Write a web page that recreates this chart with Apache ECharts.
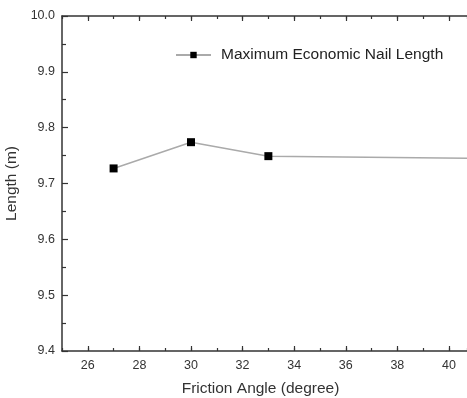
<!DOCTYPE html>
<html><head><meta charset="utf-8">
<script src="https://cdn.jsdelivr.net/npm/echarts@6/dist/echarts.min.js"></script>
<style>html,body{margin:0;padding:0;background:#fff}#c{width:467px;height:398px}</style>
</head><body><div id="c"></div>
<script>
var frictionAngle = [27, 30, 33, 45];
var nailLength = [9.727, 9.774, 9.749, 9.743];
var xTicks = [26, 28, 30, 32, 34, 36, 38, 40];
var yTicks = ['9.4', '9.5', '9.6', '9.7', '9.8', '9.9', '10.0'];

var chart = echarts.init(document.getElementById('c'));
var axisCol = '#333';
var font = 'Liberation Sans, Arial, sans-serif';
var lab = {color: '#333', fontSize: 12.5, fontFamily: font};
function minorX(pos) {
  return {
    type: 'value', min: 25, max: 40.7, interval: 1, position: pos,
    axisLine: {show: false},
    axisTick: {show: true, inside: true, length: 3, lineStyle: {color: axisCol, width: 1.2}},
    splitLine: {show: false}, axisLabel: {show: false}
  };
}
chart.setOption({
  animation: false,
  grid: {left: 62, right: 0, top: 16, bottom: 47, containLabel: false, outerBoundsMode: 'none'},
  legend: {
    data: ['Maximum Economic Nail Length'],
    left: 170, top: 42, itemWidth: 35, itemHeight: 8,
    textStyle: {color: '#222', fontSize: 15.5, fontFamily: font, padding: [0, 0, 0, 5]}
  },
  xAxis: [{
    type: 'value', min: 25, max: 40.7, position: 'bottom',
    name: 'Friction Angle (degree)', nameLocation: 'middle', nameGap: 30,
    nameTextStyle: {color: '#333', fontSize: 15.5, fontFamily: font, padding: [0, 8, 0, 0]},
    axisLine: {show: true, lineStyle: {color: axisCol, width: 1.5}},
    axisTick: {show: true, inside: true, length: 5, customValues: xTicks, lineStyle: {color: axisCol, width: 1.2}},
    splitLine: {show: false},
    axisLabel: Object.assign({margin: 8, customValues: xTicks}, lab)
  }, {
    type: 'value', min: 25, max: 40.7, position: 'top',
    axisLine: {show: true, lineStyle: {color: axisCol, width: 1.5}},
    axisTick: {show: true, inside: true, length: 5, customValues: xTicks, lineStyle: {color: axisCol, width: 1.2}},
    splitLine: {show: false}, axisLabel: {show: false}
  }, minorX('bottom'), minorX('top')],
  yAxis: {
    type: 'value', min: 9.4, max: 10.0, interval: 0.1,
    name: 'Length (m)', nameLocation: 'middle', nameGap: 34,
    nameTextStyle: {color: '#333', fontSize: 15.5, fontFamily: font},
    axisLine: {show: true, lineStyle: {color: axisCol, width: 1.5}},
    axisTick: {show: true, inside: true, length: 6, lineStyle: {color: axisCol, width: 1.2}},
    minorTick: {show: true, splitNumber: 2, length: 4, lineStyle: {color: axisCol, width: 1.2}},
    splitLine: {show: false}, minorSplitLine: {show: false},
    axisLabel: Object.assign({
      margin: 7,
      formatter: function (v) {
        var s = v.toFixed(1);
        return yTicks.indexOf(s) >= 0 ? s : '';
      }
    }, lab)
  },
  series: [{
    name: 'Maximum Economic Nail Length',
    type: 'line', clip: true,
    data: frictionAngle.map(function (x, i) { return [x, nailLength[i]]; }),
    symbol: 'rect', symbolSize: 8,
    itemStyle: {color: '#000'},
    lineStyle: {color: '#aaa', width: 1.5}
  }]
});
</script></body></html>
